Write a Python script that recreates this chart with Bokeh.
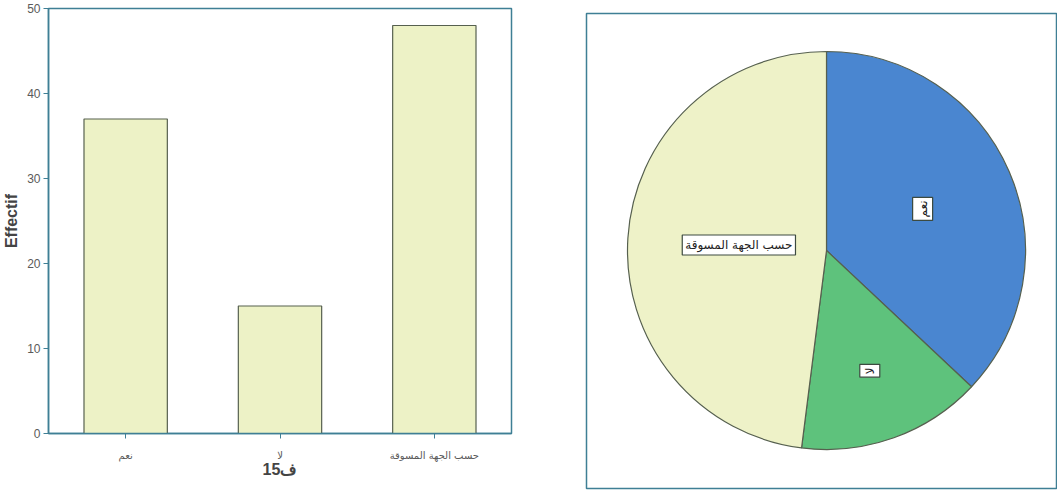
from math import pi, sin, cos

from bokeh.embed import file_html
from bokeh.layouts import column, row
from bokeh.models import ColumnDataSource, Label
from bokeh.plotting import figure
from bokeh.resources import INLINE

# Responses to question 15 and their counts
categories = ["نعم", "لا", "حسب الجهة المسوقة"]
counts = [37, 15, 48]
y_ticks = [0, 10, 20, 30, 40, 50]
slice_colors = ["#4a86d0", "#5ec27c", "#eef2c8"]

AXIS = "#3f7f95"
TICK_TXT = "#5a5a5a"
EDGE = "#56604f"
BAR_FILL = "#edf2c6"

# ---- bar chart -------------------------------------------------------------
bars = figure(
    x_range=categories, y_range=(0, 50),
    width=540, height=490,
    min_border_left=48, min_border_right=29, min_border_top=8, min_border_bottom=57,
    output_backend="svg", toolbar_location=None,
)
bars.vbar(x=categories, top=counts, width=0.54,
          fill_color=BAR_FILL, line_color=EDGE, line_width=1.2)

bars.xgrid.visible = False
bars.ygrid.visible = False
bars.outline_line_color = AXIS
bars.outline_line_width = 1.5
bars.outline_line_alpha = 1.0

for ax in (bars.xaxis, bars.yaxis):
    ax.axis_line_color = AXIS
    ax.axis_line_width = 1.5
    ax.major_tick_line_color = AXIS
    ax.major_tick_in = 0
    ax.major_tick_out = 5
    ax.minor_tick_line_color = None
    ax.major_label_text_color = TICK_TXT
    ax.major_label_text_font = "Liberation Sans"
    ax.axis_label_text_font = "Liberation Sans"
    ax.axis_label_text_font_style = "bold"
    ax.axis_label_text_color = "#444444"

bars.yaxis.ticker = y_ticks
bars.yaxis.major_label_text_font_size = "12px"
bars.yaxis.major_label_standoff = 3
bars.yaxis.axis_label = "Effectif"
bars.yaxis.axis_label_text_font_size = "16px"
bars.yaxis.axis_label_standoff = 4

bars.xaxis.major_label_text_font = "DejaVu Sans"
bars.xaxis.major_label_text_font_size = "10px"
bars.xaxis.major_label_standoff = 11
bars.xaxis.axis_label = "ف15"
bars.xaxis.axis_label_text_font_size = "16px"
bars.xaxis.axis_label_standoff = -3

# ---- pie chart -------------------------------------------------------------
R = 199
pie = figure(
    x_range=(-240, 231), y_range=(-238, 237),
    width=517, height=490,
    min_border_left=46, min_border_right=0, min_border_top=13, min_border_bottom=2,
    output_backend="svg", toolbar_location=None,
)
pie.axis.visible = False
pie.grid.visible = False
pie.outline_line_color = AXIS
pie.outline_line_width = 1.5
pie.outline_line_alpha = 1.0

total = float(sum(counts))
starts, ends = [], []
cum = 0.0
for c in counts:
    frac0 = cum / total
    cum += c
    frac1 = cum / total
    # slices run clockwise from twelve o'clock
    starts.append(pi / 2 - 2 * pi * frac1)
    ends.append(pi / 2 - 2 * pi * frac0)

src = ColumnDataSource(dict(start=starts, end=ends, color=slice_colors, name=categories))
pie.wedge(x=0, y=0, radius=R, start_angle="start", end_angle="end",
          fill_color="color", line_color=EDGE, line_width=1.2, source=src)

# labels sit at each slice's centroid; narrow slices get vertical text
for name, a0, a1 in zip(categories, starts, ends):
    theta = a1 - a0
    mid = (a0 + a1) / 2
    rc = 4 * R * sin(theta / 2) / (3 * theta)
    vertical = theta < pi * 0.8
    pie.add_layout(Label(
        x=rc * cos(mid), y=rc * sin(mid), text=name,
        angle=pi / 2 if vertical else 0,
        text_align="center", text_baseline="middle",
        text_font="DejaVu Sans", text_font_size="12px", text_color="#222222",
        background_fill_color="white", border_line_color="#3c4a40",
        border_line_width=1.2, padding=3,
    ))

# each plot in its own column so their frames are laid out independently
layout = row(column(bars), column(pie), spacing=0)
open("out.html", "w").write(file_html(layout, INLINE))
